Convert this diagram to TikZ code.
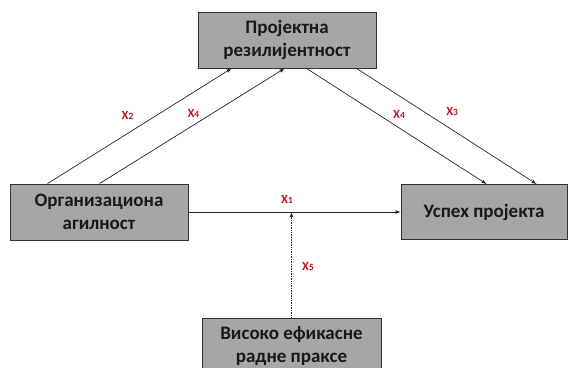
\documentclass[tikz,border=0pt]{standalone}
\usepackage{fontspec}
\setmainfont{Carlito}
\usepackage{tikz}
\usetikzlibrary{arrows}
\definecolor{boxgray}{RGB}{166,166,166}
\definecolor{labred}{RGB}{190,20,32}
\newcommand{\xvar}[1]{X{\fontsize{9.5}{9.5}\selectfont #1}}

\begin{document}
\begin{tikzpicture}[x=1pt, y=1pt]
\tikzstyle{main}=[rectangle, draw=black!80, line width=0.9pt, fill=boxgray, minimum width=178pt, minimum height=56pt, inner sep=0pt, align=center, text=black!90, font=\fontsize{19}{23}\selectfont\bfseries]
\tikzstyle{connect}=[-latex, line width=0.7pt, black!85]
\tikzstyle{coef}=[labred, font=\fontsize{12.5}{12.5}\selectfont\bfseries]

  \useasboundingbox (0,0) rectangle (569,367);

  \node[main] (agil) at (99,155) {Организациона\\агилност};

  \node[main] (rez)    [node distance=188pt, right of=agil, yshift=172pt] {Пројектна\\резилијентност};
  \node[main, minimum width=166pt, minimum height=55pt] (uspeh) [node distance=385pt, right of=agil] {Успех пројекта};
  \node[main, minimum width=179pt] (prakse) [node distance=192.5pt, right of=agil, yshift=-134pt] {Високо ефикасне\\радне праксе};

  \coordinate (meet) at (prakse.north |- agil.east);

  \path ([xshift=38pt]agil.north west) edge [connect] node [coef, pos=0.595, xshift=-29.5pt] {\xvar{2}} ([xshift=34pt]rez.south west);
  \path ([xshift=90pt]agil.north west) edge [connect] node [coef, pos=0.61, xshift=-19pt] {\xvar{4}} ([xshift=87pt]rez.south west);

  \path ([xshift=109pt]rez.south west) edge [connect] node [coef, pos=0.4, xshift=20.5pt] {\xvar{4}} ([xshift=86pt]uspeh.north west);
  \path ([xshift=159pt]rez.south west) edge [connect] node [coef, pos=0.37, xshift=29pt] {\xvar{3}} ([xshift=136pt]uspeh.north west);

  \path (agil) edge [connect] node [coef, pos=0.465, yshift=13pt] {\xvar{1}} (uspeh);
  \path (prakse) edge [connect, densely dotted] node [coef, pos=0.48, xshift=16.5pt] {\xvar{5}} (meet);

\end{tikzpicture}
\end{document}
